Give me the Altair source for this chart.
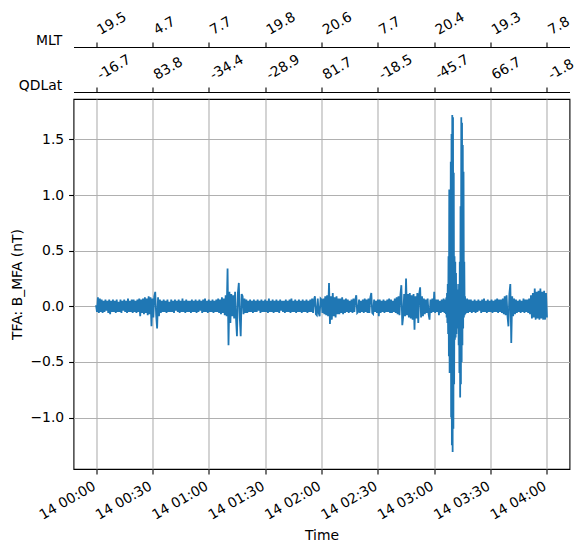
import altair as alt
import pandas as pd

# ---- data ----
tick_minutes = [0, 30, 60, 90, 120, 150, 180, 210, 240]
time_labels = ["14 00:00", "14 00:30", "14 01:00", "14 01:30", "14 02:00",
               "14 02:30", "14 03:00", "14 03:30", "14 04:00"]
mlt_labels = ["19.5", "4.7", "7.7", "19.8", "20.6", "7.7", "20.4", "19.3", "7.8"]
qdlat_labels = ["-16.7", "83.8", "-34.4", "-28.9", "81.7", "-18.5", "-45.7", "66.7", "-1.8"]
y_ticks = [-1.0, -0.5, 0.0, 0.5, 1.0, 1.5]

# segment A: 00:00 - 03:05:30, one sample every 0.5 min
seg_a_start, seg_a_step = 0.0, 0.5
b_mfa_a = [
    0.01, -0.05, 0.08, -0.06, 0.07, -0.05, 0.06, -0.06, 0.05, -0.05, 0.06, -0.04, 0.05, -0.06, 0.06, -0.07, 0.05, -0.05, 0.06, -0.05,
    0.05, -0.06, 0.06, -0.05, 0.04, -0.05, 0.06, -0.06, 0.05, -0.04, 0.06, -0.05, 0.05, -0.06, 0.07, -0.05, 0.05, -0.05, 0.06, -0.06,
    0.06, -0.05, 0.05, -0.06, 0.06, -0.05, 0.07, -0.09, 0.06, -0.06, 0.07, -0.07, 0.08, -0.06, 0.07, -0.08, 0.09, -0.07, 0.08, -0.18,
    0.07, -0.10, 0.09, 0.13, -0.08, -0.20, 0.08, -0.09, 0.06, -0.06, 0.05, -0.05, 0.06, -0.05, 0.05, -0.06, 0.06, -0.05, 0.04, -0.05,
    0.06, -0.05, 0.05, -0.06, 0.06, -0.04, 0.05, -0.05, 0.06, -0.06, 0.05, -0.05, 0.07, -0.05, 0.05, -0.06, 0.06, -0.05, 0.05, -0.05,
    0.05, -0.06, 0.06, -0.05, 0.05, -0.05, 0.06, -0.06, 0.05, -0.05, 0.06, -0.04, 0.05, -0.06, 0.06, -0.05, 0.07, -0.05, 0.05, -0.06,
    0.06, -0.05, 0.05, -0.05, 0.06, -0.06, 0.05, -0.05, 0.06, -0.05, 0.07, -0.06, 0.06, -0.07, 0.08, -0.06, 0.07, -0.08, 0.10, -0.09,
    0.34, -0.35, 0.13, -0.15, 0.11, -0.09, 0.10, -0.11, 0.13, -0.11, -0.27, 0.12, 0.21, -0.10, -0.27, 0.11, 0.09, -0.07, 0.07, -0.06,
    0.06, -0.06, 0.05, -0.05, 0.06, -0.05, 0.05, -0.06, 0.06, -0.05, 0.05, -0.05, 0.06, -0.04, 0.05, -0.06, 0.06, -0.05, 0.05, -0.05,
    0.06, -0.05, 0.05, -0.06, 0.07, -0.05, 0.05, -0.05, 0.06, -0.06, 0.05, -0.05, 0.06, -0.05, 0.05, -0.06, 0.06, -0.04, 0.05, -0.05,
    0.05, -0.06, 0.06, -0.05, 0.05, -0.05, 0.06, -0.06, 0.07, -0.05, 0.05, -0.05, 0.06, -0.06, 0.05, -0.05, 0.06, -0.05, 0.05, -0.06,
    0.06, -0.05, 0.05, -0.05, 0.06, -0.06, 0.05, -0.05, 0.06, -0.05, 0.07, -0.06, 0.06, 0.09, -0.07, -0.08, 0.07, -0.06, -0.09, 0.07,
    0.06, -0.06, 0.07, -0.07, 0.09, -0.08, 0.10, -0.09, 0.21, -0.16, 0.09, -0.12, 0.12, -0.09, 0.08, -0.10, 0.09, -0.07, 0.07, -0.07,
    0.07, -0.06, 0.08, -0.07, 0.06, -0.06, 0.07, -0.05, 0.06, -0.06, 0.05, -0.05, 0.06, -0.06, 0.07, -0.05, 0.06, 0.10, -0.06, -0.05,
    0.06, -0.06, 0.05, -0.05, 0.06, -0.06, 0.07, -0.05, 0.06, -0.06, 0.07, -0.06, 0.08, 0.12, -0.06, -0.07, 0.06, -0.05, 0.05, -0.06,
    0.06, -0.09, 0.06, -0.06, 0.05, -0.05, 0.06, -0.06, 0.05, -0.05, 0.06, -0.05, 0.07, -0.06, 0.06, -0.06, 0.05, -0.05, 0.07, -0.06,
    0.08, -0.07, 0.09, -0.08, 0.10, 0.19, -0.17, -0.09, 0.11, -0.09, 0.25, -0.08, 0.11, -0.10, 0.12, -0.11, 0.10, -0.12, 0.11, -0.21,
    0.09, -0.11, 0.12, -0.15, 0.11, 0.17, -0.10, 0.09, -0.09, 0.07, -0.07, 0.06, -0.06, 0.07, -0.07, -0.12, 0.06, -0.06, 0.07, -0.05,
    0.13, -0.06, 0.06, -0.05, 0.06, -0.08, 0.05, -0.06, 0.06, -0.05, 0.07, -0.06,
]

# segment B: 03:06 - 03:16:48, burst, one sample every 0.2 min
seg_b_start, seg_b_step = 186.0, 0.2
b_mfa_b = [
    0.06, -0.07, 0.08, -0.10, 0.12, -0.15, 0.20, -0.25, 0.45, -0.45,
    1.05, -0.60, 0.90, -0.55, 1.30, -1.00, 1.55, -1.25, 1.72, -1.31,
    1.70, -1.10, 1.20, -0.70, 0.45, -0.30, 0.40, -0.28, 0.30, -0.25,
    0.20, -0.15, 0.15, -0.20, 0.12, -0.35, 0.20, -0.60, 0.40, -0.82,
    0.90, -0.70, 1.70, -0.50, 1.65, -0.35, 1.45, -0.20, 1.21, -0.10,
    0.40, -0.08, 0.09, -0.07, 0.06,
]

# segment C: 03:17 - 04:00, one sample every 0.5 min
seg_c_start, seg_c_step = 197.0, 0.5
b_mfa_c = [
    -0.06, 0.07, -0.06, 0.06, -0.05, 0.06,
    -0.06, 0.05, -0.05, 0.06, -0.06, 0.05, -0.05, 0.06, -0.04, 0.05, -0.06, 0.06, -0.05, 0.07, -0.05, 0.05, -0.06, 0.06, -0.05, 0.05,
    -0.05, 0.06, -0.06, 0.05, -0.05, 0.06, -0.05, 0.07, -0.06, 0.06, -0.05, 0.06, -0.06, 0.07, -0.07, 0.09, -0.08, 0.10, -0.09, -0.18,
    0.11, 0.20, -0.33, 0.09, -0.09, 0.07, -0.07, 0.06, -0.06, 0.05, -0.05, 0.06, -0.06, 0.05, -0.05, 0.07, -0.06, 0.06, -0.05, 0.06,
    -0.06, 0.07, -0.07, 0.10, -0.11, 0.12, -0.10, 0.16, -0.12, 0.13, -0.11, 0.14, -0.12, 0.16, -0.11, 0.13, -0.12, 0.14, -0.12, 0.12,
    -0.10,
]

times = ([seg_a_start + i * seg_a_step for i in range(len(b_mfa_a))]
         + [seg_b_start + i * seg_b_step for i in range(len(b_mfa_b))]
         + [seg_c_start + i * seg_c_step for i in range(len(b_mfa_c))])
df = pd.DataFrame({"t": times, "b": b_mfa_a + b_mfa_b + b_mfa_c})
ticks_df = pd.DataFrame({"t": tick_minutes})

FONT = "DejaVu Sans"
FS = 13.9
XDOM = [-12, 252]
YDOM = [-1.463, 1.864]


def label_expr(labels):
    arr = ",".join("'%s'" % s for s in labels)
    return "[%s][round(datum.value / 30)]" % arr


common_axis = dict(
    labelFont=FONT, labelFontSize=FS, labelColor="black",
    titleFont=FONT, titleFontSize=FS, titleColor="black", titleFontWeight="normal",
    tickColor="black", tickSize=4.9, tickWidth=1.1, labelPadding=4.9,
    domainColor="black", domainWidth=1.1,
    labelOverlap=False, labelFlush=False, labelBound=False,
)

main = alt.Chart(df).mark_line(color="#1f77b4", strokeWidth=1.8, clip=True).encode(
    x=alt.X("t:Q",
            scale=alt.Scale(domain=XDOM, nice=False, zero=False),
            axis=alt.Axis(values=tick_minutes, labelExpr=label_expr(time_labels),
                          labelAngle=330, labelAlign="right", labelBaseline="top",
                          labelOffset=-5.5,
                          title="Time", titleY=70, titleBaseline="alphabetic",
                          grid=True, gridColor="#b0b0b0", gridWidth=1.1, domain=False,
                          **common_axis)),
    y=alt.Y("b:Q",
            scale=alt.Scale(domain=YDOM, nice=False, zero=False),
            axis=alt.Axis(values=y_ticks, format=".1f",
                          title="TFA: B_MFA (nT)", titleAngle=270, titleX=-56.5,
                          titleBaseline="middle",
                          grid=True, gridColor="#b0b0b0", gridWidth=1.1, domain=False,
                          **common_axis)),
)


def top_axis(labels, title, offset):
    return alt.Chart(ticks_df).mark_point(opacity=0).encode(
        x=alt.X("t:Q",
                scale=alt.Scale(domain=XDOM, nice=False, zero=False),
                axis=alt.Axis(orient="top", offset=offset, values=tick_minutes,
                              labelExpr=label_expr(labels),
                              labelAngle=330, labelAlign="left", labelBaseline="bottom",
                              labelOffset=5.5,
                              grid=False, title=title, titleAngle=0, titleAlign="right",
                              titleX=-11.8, titleY=-2.7, titleBaseline="alphabetic",
                              **common_axis)),
    )


chart = alt.layer(
    main,
    top_axis(qdlat_labels, "QDLat", 7),
    top_axis(mlt_labels, "MLT", 52),
).resolve_scale(x="independent").properties(
    width=496, height=370,
    padding={"left": 73.5, "top": 99, "right": 16.5, "bottom": 82},
    autosize=alt.AutoSizeParams(type="none"),
    background="white",
).configure_view(stroke="black", strokeWidth=1.1)

chart.save("out.html", embed_options={"renderer": "svg", "actions": False})
